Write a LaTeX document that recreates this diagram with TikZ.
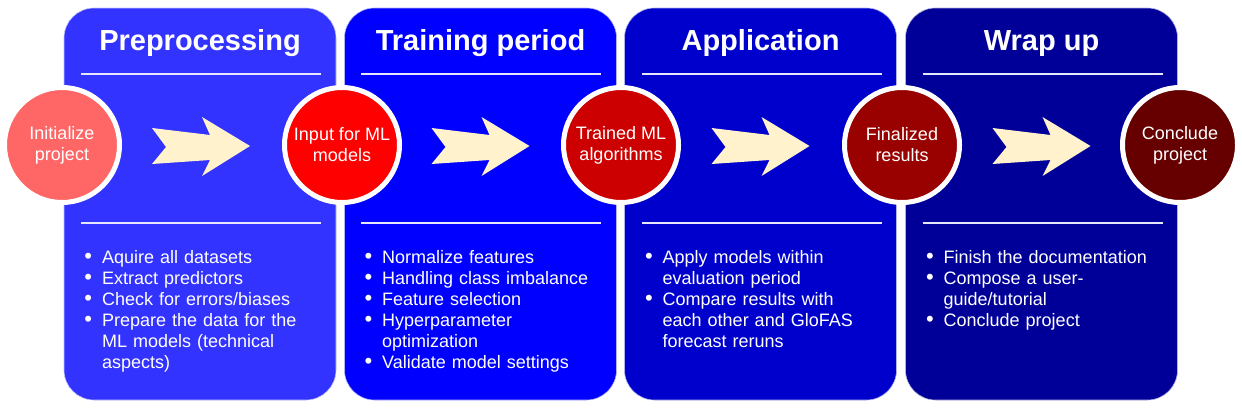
\documentclass[tikz,border=0pt]{standalone}
\usepackage{fontspec}
\setmainfont{Liberation Sans}
\usepackage{enumitem}
\definecolor{pA}{HTML}{3333FF}
\definecolor{pB}{HTML}{0000FF}
\definecolor{pC}{HTML}{0000CC}
\definecolor{pD}{HTML}{000099}
\definecolor{cA}{HTML}{FF6666}
\definecolor{cB}{HTML}{FF0000}
\definecolor{cC}{HTML}{CC0000}
\definecolor{cD}{HTML}{990000}
\definecolor{cE}{HTML}{660000}
\definecolor{arrowfill}{HTML}{FFF2CC}
\definecolor{rulecol}{HTML}{E6E6FF}
\newcommand\bigbullet{\smash{\raisebox{-0.02em}{\fontsize{22}{22}\selectfont\textbullet}}}
\newcommand\bitems[1]{\begin{itemize}[label=\bigbullet,leftmargin=38pt,labelsep=10pt,itemsep=0pt,topsep=0pt,parsep=0pt,partopsep=0pt]#1\end{itemize}}
\tikzset{
  panel/.style={rounded corners=30pt, minimum width=272pt, minimum height=392pt, inner sep=0pt, draw=white!70!#1, line width=0.6pt, fill=#1},
  title/.style={text=white, font=\fontsize{29}{34}\selectfont\bfseries, anchor=base, inner sep=0pt},
  milestone/.style={circle, minimum size=115pt, inner sep=0pt, draw=white, line width=5pt, fill=#1, text=white, align=center, font=\fontsize{18}{21}\selectfont},
  sep/.style={draw=rulecol, line width=1.3pt},
  chevron/.style={fill=arrowfill, draw=none},
  bullets/.style={text=white, anchor=north west, inner sep=0pt, text width=285pt, font=\fontsize{18}{21}\selectfont, align=left}
}
\begin{document}
\begin{tikzpicture}[x=1pt,y=-1pt]
\useasboundingbox (0,0) rectangle (1242,415);
% panels
\node[panel=pA] (P1) at (200,204) {};
\node[panel=pB] (P2) at (480.5,204) {};
\node[panel=pC] (P3) at (760.5,204) {};
\node[panel=pD] (P4) at (1041.5,204) {};
% titles
\node[title] (T1) at (200,50) {Preprocessing};
\node[title] (T2) at (480.5,50) {Training period};
\node[title] (T3) at (760.5,50) {Application};
\node[title] (T4) at (1041.5,50) {Wrap up};
% separator lines
\foreach \l in {64,344,624.5,905.5}{
  \draw[sep] (\l+17,74) -- (\l+257,74);
  \draw[sep] (\l+17,223) -- (\l+257,223);
}
% arrows
\foreach \c in {201,480.5,760.5,1041.5}{
  \fill[chevron] (\c-49,128) -- (\c-35,147) -- (\c-49,164) -- (\c+9,160) -- (\c+1,176) -- (\c+49,146) -- (\c+1,117) -- (\c+9,135) -- cycle;
}
% milestones
\node[milestone=cA] (M1) at (62,145) {Initialize\\project};
\node[milestone=cB] (M2) at (342,145) {Input for ML\\models};
\node[milestone=cC] (M3) at (621,145) {Trained ML\\algorithms};
\node[milestone=cD] (M4) at (902,145) {Finalized\\results};
\node[milestone=cE] (M5) at (1180,145) {Conclude\\project};
% bullet lists
\node[bullets] (B1) at (64,242) {\bitems{\item Aquire all datasets
\item Extract predictors
\item Check for errors/biases
\item Prepare the data for the\newline ML models (technical\newline aspects)}};
\node[bullets] (B2) at (344,242) {\bitems{\item Normalize features
\item Handling class imbalance
\item Feature selection
\item Hyperparameter\newline optimization
\item Validate model settings}};
\node[bullets] (B3) at (624.5,242) {\bitems{\item Apply models within\newline evaluation period
\item Compare results with\newline each other and GloFAS\newline forecast reruns}};
\node[bullets] (B4) at (905.5,242) {\bitems{\item Finish the documentation
\item Compose a user-\newline guide/tutorial
\item Conclude project}};
\end{tikzpicture}
\end{document}
